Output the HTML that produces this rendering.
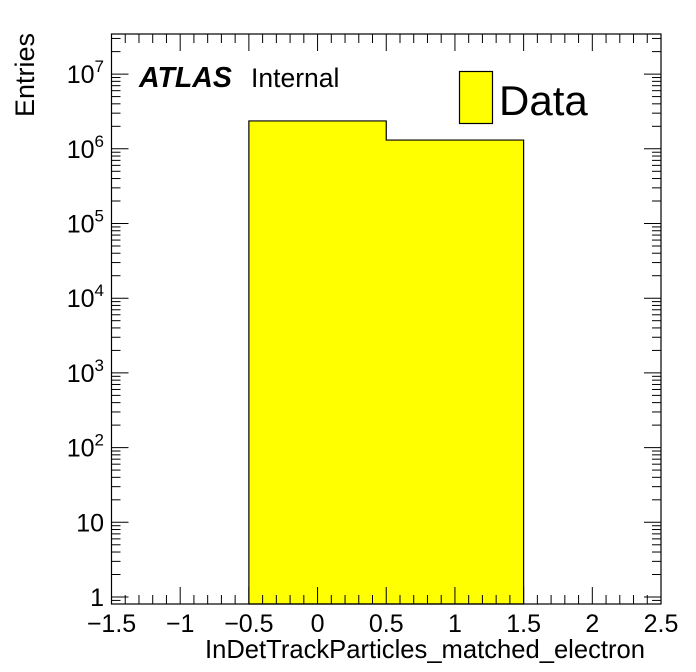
<!DOCTYPE html>
<html><head><meta charset="utf-8"><style>
body{margin:0;background:#fff}
svg{display:block;font-family:"Liberation Sans",sans-serif}
</style></head><body>
<svg id="c" width="696" height="672" xmlns="http://www.w3.org/2000/svg"></svg>
<script>
const binEdges=[-0.5,0.5,1.5];
const binValues=[2360000,1310000];
const xTicks=[-1.5,-1,-0.5,0,0.5,1,1.5,2,2.5];
const xTickLabels=["\u22121.5","\u22121","\u22120.5","0","0.5","1","1.5","2","2.5"];
const yDecades=[0,1,2,3,4,5,6,7];
const yTickLabels=["1","10","10^2","10^3","10^4","10^5","10^6","10^7"];

const L=111.5,R=661,T=34,B=604;
const xMin=-1.5,xMax=2.5;
const y0=597,dec=74.7;
const X=v=>L+(v-xMin)/(xMax-xMin)*(R-L);
const Y=v=>y0-Math.log10(v)*dec;
const svg=document.getElementById('c');
const NS="http://www.w3.org/2000/svg";
function mk(tag,attrs,parent){const e=document.createElementNS(NS,tag);for(const k in attrs)e.setAttribute(k,attrs[k]);(parent||svg).appendChild(e);return e;}

let d=`M${X(binEdges[0])},${B}`;
for(let i=0;i<binValues.length;i++){d+=`L${X(binEdges[i])},${Y(binValues[i])}L${X(binEdges[i+1])},${Y(binValues[i])}`;}
d+=`L${X(binEdges[binEdges.length-1])},${B}Z`;
const h=mk('path',{d:d,fill:'#ffff00',stroke:'#000','stroke-width':1.2});



const fr=mk('rect',{x:L,y:T,width:R-L,height:B-T,fill:'none',stroke:'#000','stroke-width':1.2});



const tg=mk('g',{stroke:'#000','stroke-width':1});


for(let v=-1.5;v<=2.5001;v+=0.1){
  const major=Math.abs(v*2-Math.round(v*2))<1e-6;
  const len=major?17:9;const x=X(v);
  mk('line',{x1:x,y1:B,x2:x,y2:B-len},tg);
  mk('line',{x1:x,y1:T,x2:x,y2:T+len},tg);
}
for(let k=-1;k<=7;k++){
  for(let m=1;m<10;m++){
    const v=m*Math.pow(10,k);
    const y=Y(v);if(y>B||y<T)continue;
    const len=m===1?17:9;
    mk('line',{x1:L,y1:y,x2:L+len,y2:y},tg);
    mk('line',{x1:R,y1:y,x2:R-len,y2:y},tg);
  }
}
xTicks.forEach((v,i)=>{
  const t=mk('text',{x:X(v),y:632,'text-anchor':'middle','font-size':25});
  t.textContent=xTickLabels[i];
  
  
});
yDecades.forEach((k,i)=>{
  const t=mk('text',{x:104,y:Y(Math.pow(10,k))+9,'text-anchor':'end','font-size':25});
  const lab=yTickLabels[i];
  if(lab.includes('^')){const [b,e]=lab.split('^');
    t.textContent=b;const s=mk('tspan',{dy:-11,'font-size':17},t);s.textContent=e;
  } else t.textContent=lab;
  
  
});
</script>
<div style="position:absolute;left:0;top:0;width:696px;height:672px;pointer-events:none">
<svg width="696" height="672" xmlns="http://www.w3.org/2000/svg" style="font-family:'Liberation Sans',sans-serif">
<text x="645" y="658" text-anchor="end" font-size="25.6">InDetTrackParticles_matched_electron</text>
<text transform="translate(34,117) rotate(-90)" font-size="27">Entries</text>
<text x="139" y="87" font-size="28.5" font-weight="bold" font-style="italic">ATLAS</text>
<text x="251" y="87" font-size="26.5">Internal</text>
<rect x="459.5" y="71.5" width="33" height="52" fill="#ffff00" stroke="#000" stroke-width="1.2"/>
<text x="499" y="115" font-size="42">Data</text>
</svg></div>
</body></html>
